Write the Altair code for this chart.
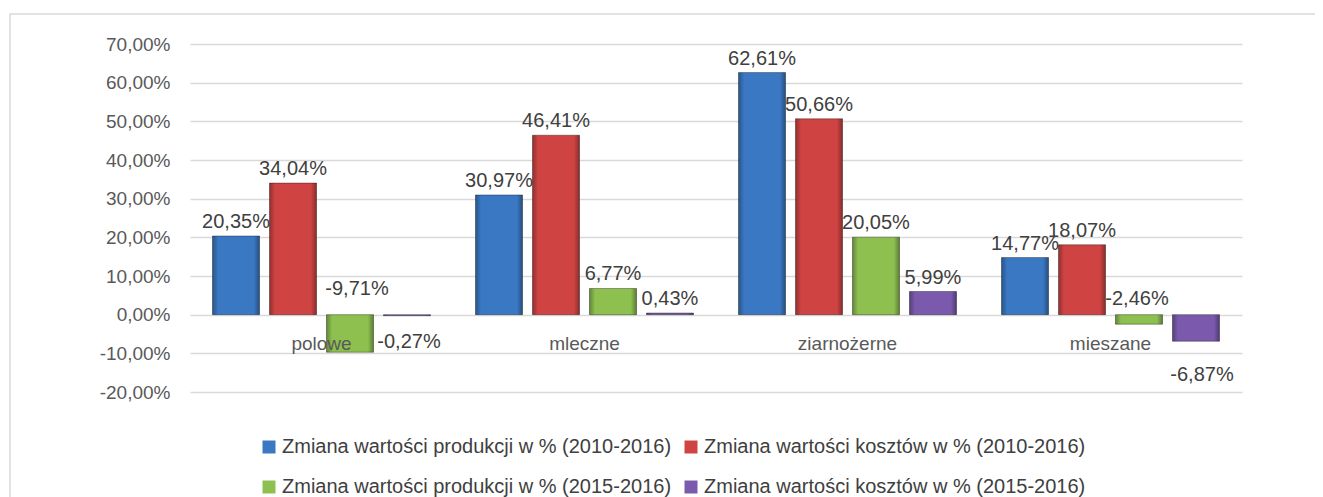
import altair as alt
import pandas as pd

categories = ["polowe", "mleczne", "ziarnożerne", "mieszane"]
series = [
    "Zmiana wartości produkcji  w % (2010-2016)",
    "Zmiana wartości kosztów  w % (2010-2016)",
    "Zmiana wartości produkcji  w % (2015-2016)",
    "Zmiana wartości kosztów  w % (2015-2016)",
]
prod_2010_2016 = [20.35, 30.97, 62.61, 14.77]
cost_2010_2016 = [34.04, 46.41, 50.66, 18.07]
prod_2015_2016 = [-9.71, 6.77, 20.05, -2.46]
cost_2015_2016 = [-0.27, 0.43, 5.99, -6.87]
y_ticks = [-20, -10, 0, 10, 20, 30, 40, 50, 60, 70]
colors = ["#3A78C3", "#CF4443", "#8DC04F", "#7B5AAE"]

values = [prod_2010_2016, cost_2010_2016, prod_2015_2016, cost_2015_2016]
rows = []
for si, s in enumerate(series):
    for ci, c in enumerate(categories):
        v = values[si][ci]
        rows.append({"cat": c, "series": s, "sid": si, "value": v,
                     "label": f"{v:.2f}".replace(".", ",") + "%", "zero": 0})
df = pd.DataFrame(rows)
cat_df = pd.DataFrame({"cat": categories, "zero": [0] * len(categories)})

W, H = 1052, 348
FONT = "Liberation Sans"
TXT = "#404040"

x_enc = alt.X("cat:N", sort=categories, axis=None,
              scale=alt.Scale(paddingInner=0, paddingOuter=0))
xo_enc = alt.XOffset("series:N", sort=series,
                     scale=alt.Scale(paddingInner=0.175, paddingOuter=0.395))
y_scale = alt.Scale(domain=[-20, 70], nice=False, zero=False)
y_axis = alt.Axis(values=y_ticks, title=None, domain=False, ticks=False,
                  grid=True, gridColor="#d9d9d9", gridWidth=1.5,
                  labelOverlap=False,
                  labelPadding=20, labelFontSize=19, labelFont=FONT,
                  labelColor="#595959",
                  labelExpr="replace(replace(format(datum.value, '.2f'), '.', ','), '\u2212', '-') + '%'")

def y_enc(field):
    return alt.Y(f"{field}:Q", scale=y_scale, axis=y_axis)

bars = alt.Chart(df).mark_bar().encode(
    x=x_enc, xOffset=xo_enc,
    y=y_enc("value"),
    y2=alt.Y2("zero:Q"),
    color=alt.Color("series:N", sort=series,
                    scale=alt.Scale(domain=series, range=colors),
                    legend=alt.Legend(title=None, orient="none", legendX=69, legendY=393,
                                      columns=2, direction="horizontal",
                                      symbolType="square", symbolSize=169,
                                      symbolStrokeWidth=0, labelFont=FONT,
                                      labelFontSize=20, labelColor=TXT,
                                      labelLimit=500, columnPadding=4,
                                      rowPadding=20, symbolOffset=0, labelOffset=3)),
)

shade = alt.Chart(df).mark_bar(
    fill=alt.Gradient(gradient="linear", x1=0, x2=1, y1=0, y2=0, stops=[
        alt.GradientStop(color="rgba(0,0,0,0.30)", offset=0),
        alt.GradientStop(color="rgba(0,0,0,0.0)", offset=0.12),
        alt.GradientStop(color="rgba(255,255,255,0.0)", offset=0.5),
        alt.GradientStop(color="rgba(0,0,0,0.0)", offset=0.88),
        alt.GradientStop(color="rgba(0,0,0,0.35)", offset=1),
    ]),
    stroke="rgba(0,0,0,0.35)", strokeWidth=1,
).encode(x=x_enc, xOffset=xo_enc, y=y_enc("value"), y2="zero:Q")

# label placement (style): default above the bar end
special = {
    ("polowe", 2): ("zero", 7, -20),
    ("polowe", 3): ("value", 2, 32),
    ("mieszane", 2): ("zero", -2, -10),
    ("mieszane", 3): ("value", 6, 40),
}
df["special"] = [(r.cat, r.sid) in special for r in df.itertuples()]

def text_layer(data, anchor, dx, dy):
    return alt.Chart(data).mark_text(font=FONT, fontSize=20, color=TXT,
                                     baseline="alphabetic", dx=dx, dy=dy).encode(
        x=x_enc, xOffset=xo_enc, y=y_enc(anchor), text="label:N")

layers = [bars, shade, text_layer(df[~df["special"]], "value", 0, -8)]
for (c, sid), (anchor, dx, dy) in special.items():
    sub = df[(df["cat"] == c) & (df["sid"] == sid)]
    layers.append(text_layer(sub, anchor, dx, dy))

cat_labels = alt.Chart(cat_df).mark_text(font=FONT, fontSize=19, color="#595959",
                                         baseline="alphabetic", dy=35).encode(
    x=alt.X("cat:N", sort=categories, axis=None,
            scale=alt.Scale(paddingInner=0, paddingOuter=0)),
    y=y_enc("zero"), text="cat:N")
layers.append(cat_labels)

frame = alt.Chart(cat_df.head(1)).mark_rect(fill="transparent", stroke="#d9d9d9",
                                            strokeWidth=1.5).encode(
    x=alt.value(-180), x2=alt.value(1150), y=alt.value(-30), y2=alt.value(480))
layers.insert(0, frame)

chart = alt.layer(*layers).properties(
    width=W, height=H,
    autosize=alt.AutoSizeParams(type="none"),
    padding={"left": 182, "top": 36, "right": 73, "bottom": 105},
).configure(background="white").configure_view(stroke=None)

chart.save("out.html", embed_options={"renderer": "svg", "actions": False})
